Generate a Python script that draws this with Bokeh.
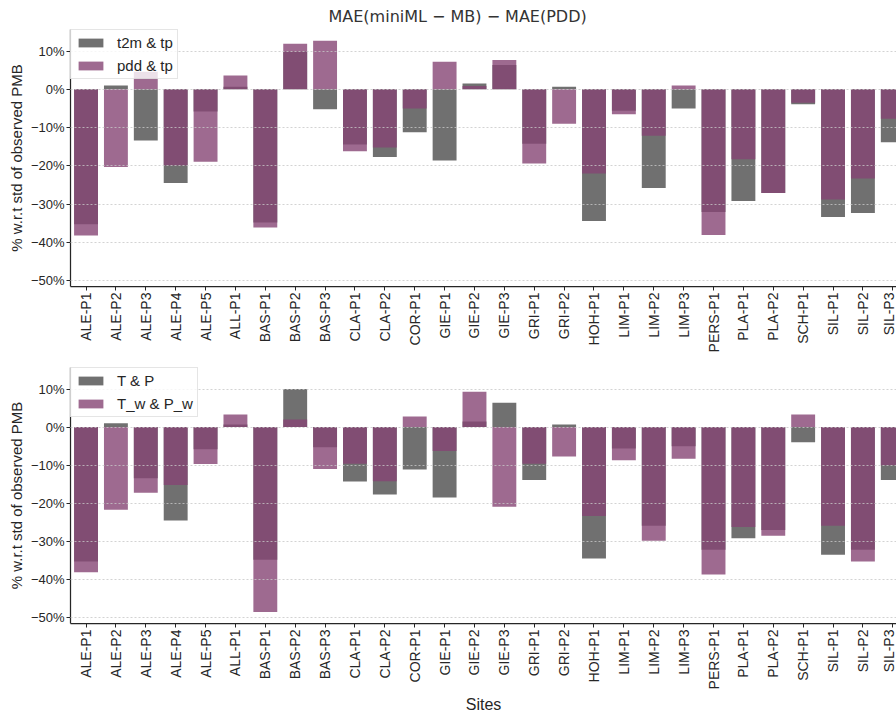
import math
import numpy as np
from bokeh.plotting import figure
from bokeh.models import Range1d, FixedTicker, Legend, LegendItem
from bokeh.layouts import column
from bokeh.embed import file_html
from bokeh.resources import INLINE

# ---------------- data ----------------
sites = ["ALE-P1", "ALE-P2", "ALE-P3", "ALE-P4", "ALE-P5", "ALL-P1",
         "BAS-P1", "BAS-P2", "BAS-P3", "CLA-P1", "CLA-P2", "COR-P1",
         "GIE-P1", "GIE-P2", "GIE-P3", "GRI-P1", "GRI-P2", "HOH-P1",
         "LIM-P1", "LIM-P2", "LIM-P3", "PERS-P1", "PLA-P1", "PLA-P2",
         "SCH-P1", "SIL-P1", "SIL-P2", "SIL-P3"]

# top panel
t2m_tp = [-35.3, 1.0, -13.4, -24.5, -5.8, 0.7, -34.8, 9.9, -5.2, -14.4,
          -17.7, -11.2, -18.6, 1.5, 6.4, -14.2, 0.7, -34.4, -5.6, -25.8,
          -5.0, -32.1, -29.2, -27.1, -3.9, -33.4, -32.3, -13.8]
pdd_tp = [-38.2, -20.3, 4.6, -19.9, -18.9, 3.6, -36.1, 11.9, 12.7, -16.2,
          -15.2, -5.0, 7.2, 0.9, 7.7, -19.4, -9.0, -22.0, -6.5, -12.1,
          1.0, -38.1, -18.3, -27.1, -3.5, -28.8, -23.3, -7.7]

# bottom panel
T_P = [-35.3, 1.0, -13.4, -24.5, -5.8, 0.7, -34.8, 10.0, -5.3, -14.3,
       -17.7, -11.1, -18.5, 1.5, 6.4, -13.9, 0.7, -34.5, -5.6, -25.9,
       -5.0, -32.2, -29.2, -27.0, -4.0, -33.5, -32.2, -13.9]
Tw_Pw = [-38.1, -21.7, -17.2, -15.2, -9.7, 3.3, -48.5, 2.0, -11.0, -9.6,
         -14.2, 2.8, -6.3, 9.3, -20.9, -9.6, -7.7, -23.3, -8.7, -29.8,
         -8.3, -38.7, -26.2, -28.5, 3.3, -25.9, -35.3, -10.0]

y_ticks = [-50, -40, -30, -20, -10, 0, 10]
y_tick_labels = ["\u221250%", "\u221240%", "\u221230%", "\u221220%", "\u221210%", "0%", "10%"]

title_text = "MAE(miniML \u2212 MB) \u2212 MAE(PDD)"
y_label = "% w.r.t std of observed PMB"
x_label = "Sites"

GREY = "#707070"
PURPLE = "#864574"
TXT = "#262626"
TICK_FONT = "Liberation Sans"


def make_panel(grey_vals, purple_vals, grey_name, purple_name, height,
               border_top, border_bottom, title=None, xlabel=None):
    p = figure(width=896, height=height, output_backend="svg",
               toolbar_location=None,
               x_range=Range1d(-0.52, 27.124), y_range=Range1d(-51.55, 15.65),
               min_border_left=70, min_border_right=0,
               min_border_top=border_top, min_border_bottom=border_bottom)
    p.outline_line_color = None
    p.background_fill_color = "white"

    xs = np.arange(len(sites))
    r1 = p.vbar(x=xs, top=grey_vals, bottom=0, width=0.8,
                fill_color=GREY, line_color=None)
    r2 = p.vbar(x=xs, top=purple_vals, bottom=0, width=0.8,
                fill_color=PURPLE, fill_alpha=0.8, line_color=None)

    # axes
    p.xaxis.ticker = FixedTicker(ticks=list(range(len(sites))))
    p.xaxis.major_label_overrides = {i: s for i, s in enumerate(sites)}
    p.xaxis.major_label_orientation = math.pi / 2
    p.yaxis.ticker = FixedTicker(ticks=y_ticks)
    p.yaxis.major_label_overrides = {v: l for v, l in zip(y_ticks, y_tick_labels)}
    for ax in (p.xaxis[0], p.yaxis[0]):
        ax.axis_line_color = TXT
        ax.axis_line_width = 1.25
        ax.major_tick_line_color = TXT
        ax.major_tick_line_width = 1.0
        ax.major_tick_out = 4
        ax.major_tick_in = 0
        ax.minor_tick_out = 0
        ax.minor_tick_in = 0
        ax.major_label_text_color = TXT
        ax.major_label_text_font = TICK_FONT
        ax.major_label_standoff = 2
    p.xaxis.major_label_text_font_size = "14px"
    p.yaxis.major_label_text_font_size = "13px"
    p.yaxis.axis_label = y_label
    p.yaxis.axis_label_text_font = TICK_FONT
    p.yaxis.axis_label_text_font_size = "15px"
    p.yaxis.axis_label_text_font_style = "normal"
    p.yaxis.axis_label_text_color = TXT
    p.yaxis.axis_label_standoff = 3
    if xlabel:
        p.xaxis.axis_label = xlabel
        p.xaxis.axis_label_text_font = TICK_FONT
        p.xaxis.axis_label_text_font_size = "16px"
        p.xaxis.axis_label_text_font_style = "normal"
        p.xaxis.axis_label_text_color = TXT
        p.xaxis.axis_label_standoff = 4

    # grid
    p.xgrid.visible = False
    p.ygrid.ticker = FixedTicker(ticks=y_ticks)
    p.ygrid.grid_line_color = "#c8c8c8"
    p.ygrid.grid_line_width = 0.8
    p.ygrid.grid_line_dash = "2 2"
    p.ygrid.level = "guide"

    if title:
        p.title.text = title
        p.title.text_font = "DejaVu Sans"
        p.title.text_font_size = "16px"
        p.title.text_font_style = "normal"
        p.title.text_color = "#333333"
        p.title.align = "left"
        p.title.offset = 258
        p.title.standoff = 7

    legend = Legend(items=[LegendItem(label=grey_name, renderers=[r1]),
                           LegendItem(label=purple_name, renderers=[r2])],
                    location="top_left", margin=0, padding=4, spacing=6,
                    label_height=16, glyph_height=11, glyph_width=31,
                    label_standoff=11, label_text_font=TICK_FONT,
                    label_text_font_size="15px", label_text_color=TXT,
                    background_fill_color="white", background_fill_alpha=0.8,
                    border_line_color="#cccccc", border_line_width=1)
    p.add_layout(legend)
    return p


p1 = make_panel(t2m_tp, pdd_tp, "t2m & tp", "pdd & tp", height=355,
                border_top=29, border_bottom=69, title=title_text)
p2 = make_panel(T_P, Tw_Pw, "T & P", "T_w & P_w", height=361,
                border_top=12, border_bottom=92, xlabel=x_label)

layout = column(p1, p2, spacing=0)
open("out.html", "w").write(file_html(layout, INLINE))
